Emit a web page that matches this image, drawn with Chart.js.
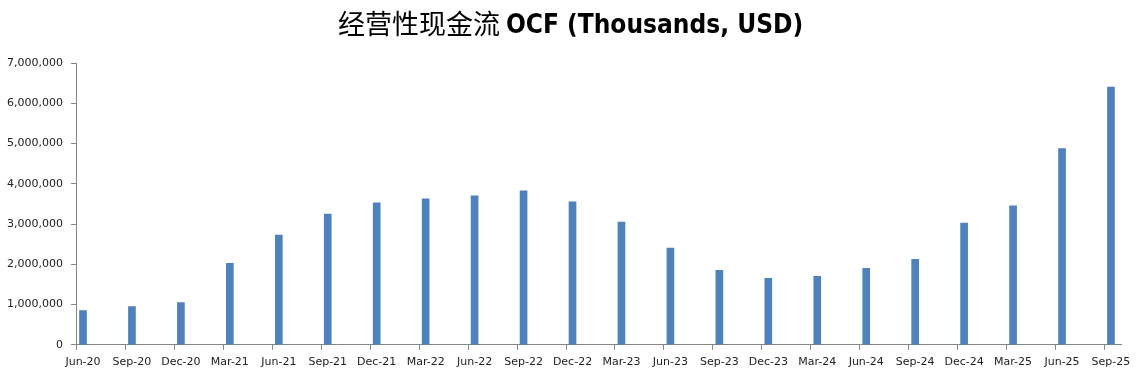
<!DOCTYPE html>
<html>
<head>
<meta charset="utf-8">
<script src="https://cdn.jsdelivr.net/npm/chart.js@4/dist/chart.umd.min.js"></script>
<style>
  html, body { margin: 0; padding: 0; background: #fff; }
  #wrap { width: 1141px; height: 375px; }
</style>
</head>
<body>
<div id="wrap"><canvas id="ocfChart"></canvas></div>
<script>
// 经营性现金流 OCF (Thousands, USD)
const quarters = ['Jun-20', 'Sep-20', 'Dec-20', 'Mar-21', 'Jun-21', 'Sep-21', 'Dec-21', 'Mar-22',
  'Jun-22', 'Sep-22', 'Dec-22', 'Mar-23', 'Jun-23', 'Sep-23', 'Dec-23', 'Mar-24',
  'Jun-24', 'Sep-24', 'Dec-24', 'Mar-25', 'Jun-25', 'Sep-25'];
const ocfValues = [850000, 950000, 1050000, 2025000, 2725000, 3250000, 3525000, 3625000,
  3700000, 3825000, 3550000, 3050000, 2400000, 1850000, 1650000, 1700000,
  1900000, 2125000, 3025000, 3450000, 4875000, 6400000];
const yTicks = [0, 1000000, 2000000, 3000000, 4000000, 5000000, 6000000, 7000000];

const TICK_SHIFT = 0.143; // x 轴刻度线在柱子左侧一点
const axisColor = '#868686';

// 标题: 中文 + 粗体英文
const titlePlugin = {
  id: 'twoFontTitle',
  afterDraw(chart) {
    const ctx = chart.ctx;
    const cn = '经营性现金流';
    const en = 'OCF (Thousands, USD)';
    ctx.save();
    ctx.textBaseline = 'alphabetic';
    ctx.fillStyle = '#000';
    ctx.font = '27px "Noto Sans CJK SC", sans-serif';
    const wCn = ctx.measureText(cn).width;
    ctx.font = 'bold 26px "Liberation Sans Narrow", "DejaVu Sans Condensed", sans-serif';
    const wEn = ctx.measureText(en).width;
    const gap = 6;
    const start = 570.5 - (wCn + gap + wEn) / 2;
    ctx.font = '27px "Noto Sans CJK SC", sans-serif';
    ctx.fillText(cn, start, 34);
    ctx.font = 'bold 26px "Liberation Sans Narrow", "DejaVu Sans Condensed", sans-serif';
    ctx.fillText(en, start + wCn + gap, 33);
    ctx.restore();
  }
};

// x 轴刻度线
const xTickMarks = {
  id: 'xTickMarks',
  afterDraw(chart) {
    const x = chart.scales.x;
    const ctx = chart.ctx;
    ctx.save();
    ctx.strokeStyle = axisColor;
    ctx.lineWidth = 1;
    ctx.beginPath();
    quarters.forEach((q, i) => {
      const px = Math.round(x.getPixelForValue(i - TICK_SHIFT)) + 0.5;
      ctx.moveTo(px, x.top);
      ctx.lineTo(px, x.top + 5);
    });
    ctx.stroke();
    ctx.restore();
  }
};

new Chart(document.getElementById('ocfChart'), {
  type: 'bar',
  data: {
    datasets: [{
      data: ocfValues.map((v, i) => ({ x: i, y: v })),
      backgroundColor: '#4F81BD',
      barThickness: 7
    }]
  },
  options: {
    responsive: true,
    maintainAspectRatio: false,
    animation: false,
    layout: { padding: { top: 63, left: 7, right: 20, bottom: 0 } },
    plugins: {
      legend: { display: false },
      tooltip: { enabled: false }
    },
    scales: {
      x: {
        type: 'linear',
        offset: false,
        min: -TICK_SHIFT,
        max: 21.205,
        afterBuildTicks: s => { s.ticks = quarters.map((q, i) => ({ value: i })); },
        grid: { display: false, tickLength: 5 },
        border: { color: axisColor, width: 1 },
        ticks: {
          autoSkip: false,
          maxRotation: 0,
          padding: 6,
          color: '#222',
          font: { family: '"DejaVu Sans", sans-serif', size: 11 },
          callback: v => quarters[v]
        }
      },
      y: {
        min: 0,
        max: 7000000,
        afterBuildTicks: s => { s.ticks = yTicks.map(v => ({ value: v })); },
        afterFit: s => { s.width = 69; },
        grid: { drawOnChartArea: false, tickLength: 5, color: axisColor },
        border: { color: axisColor, width: 1 },
        ticks: {
          padding: 8,
          color: '#222',
          font: { family: '"DejaVu Sans", sans-serif', size: 11 },
          callback: v => v.toLocaleString('en-US')
        }
      }
    }
  },
  plugins: [titlePlugin, xTickMarks]
});
</script>
</body>
</html>
